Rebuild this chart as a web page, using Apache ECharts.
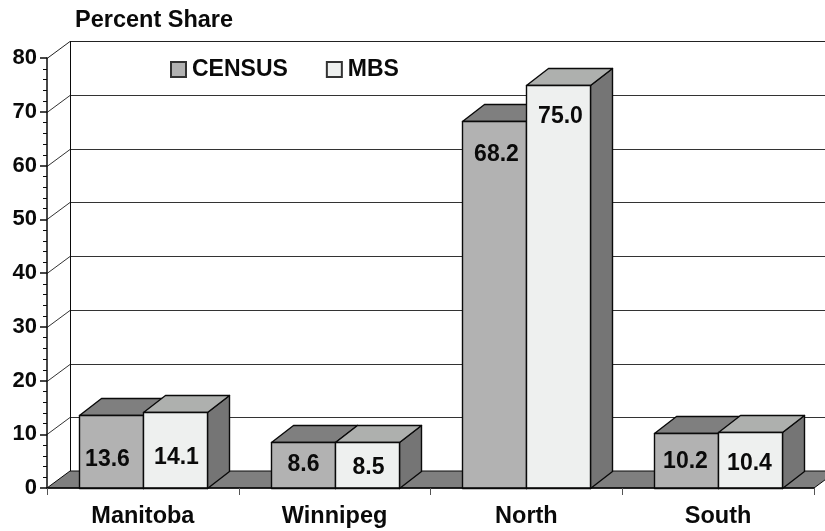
<!DOCTYPE html>
<html><head><meta charset="utf-8">
<style>html,body{margin:0;padding:0;background:#fff}#c{width:825px;height:531px}</style>
<script src="https://cdn.jsdelivr.net/npm/echarts@6/dist/echarts.min.js"></script>
</head><body><div id="c"></div>
<script>
const categories = ['Manitoba','Winnipeg','North','South'];
const census = [13.6, 8.6, 68.2, 10.2];
const mbs = [14.1, 8.5, 75.0, 10.4];
const gridValues = [10,20,30,40,50,60,70,80];
const censusLabelShift = [[-4,44],[0,22],[2,33],[-1,28]];
const mbsLabelShift = [[1,45],[1,25],[2,31],[-1,31]];

const FONT = '"Liberation Sans", Arial, sans-serif';
const WALL_X = 23, DEPTH_X = 22, DEPTH_Y = 17;
const BAR_W = 64;
const INK = '#0a0a0a';

function px(v){ return Math.round(v) + 0.5; }

function bgItem(params, api){
  const cs = params.coordSys;
  const v = api.value(0);
  const y = px(api.coord([0, v])[1]);
  const x0 = cs.x, xb = cs.x + WALL_X;
  return { type:'polyline', silent:true,
    shape:{ points:[[x0,y],[xb,y-DEPTH_Y],[cs.x+cs.width+WALL_X,y-DEPTH_Y]] },
    style:{ stroke: v===80 ? '#222' : '#333', lineWidth:1, fill:null } };
}
function floorItem(params, api){
  const cs = params.coordSys;
  const b = cs.y + cs.height, l = cs.x, r = cs.x + cs.width;
  return { type:'group', children:[
    { type:'polygon', shape:{ points:[[l,b],[l+WALL_X,b-DEPTH_Y],[r+WALL_X,b-DEPTH_Y],[r,b]] },
      style:{ fill:'#7f7f7f', stroke:INK, lineWidth:1 } },
    { type:'line', shape:{ x1:px(l+WALL_X), y1:cs.y-DEPTH_Y, x2:px(l+WALL_X), y2:b-DEPTH_Y },
      style:{ stroke:INK, lineWidth:1 } }
  ]};
}
function barRenderer(side, front, top, flank, shifts){
  return function(params, api){
    const i = api.value(0), v = api.value(1);
    const c = api.coord([i, v]), z = api.coord([i, 0]);
    const x0 = Math.round(side < 0 ? c[0] - BAR_W : c[0]) + 0.5;
    const x1 = x0 + BAR_W;
    const yt = Math.round(c[1]) + 0.5, yb = Math.round(z[1]) + 0.5;
    const s = shifts[i];
    const ln = { stroke:INK, lineWidth:1.4, lineJoin:'round' };
    return { type:'group', children:[
      { type:'polygon', shape:{ points:[[x1,yt],[x1+DEPTH_X,yt-DEPTH_Y],[x1+DEPTH_X,yb-DEPTH_Y],[x1,yb]] },
        style:Object.assign({ fill:flank }, ln) },
      { type:'polygon', shape:{ points:[[x0,yt],[x0+DEPTH_X,yt-DEPTH_Y],[x1+DEPTH_X,yt-DEPTH_Y],[x1,yt]] },
        style:Object.assign({ fill:top }, ln) },
      { type:'rect', shape:{ x:x0, y:yt, width:BAR_W, height:yb-yt },
        style:Object.assign({ fill:front }, ln) },
      { type:'text', x:(x0+x1)/2 + s[0], y:yt + s[1],
        style:{ text:v.toFixed(1), fill:'#0a0a0a', font:'bold 23px '+FONT, align:'center', verticalAlign:'middle' } }
    ]};
  };
}

const chart = echarts.init(document.getElementById('c'), null, {renderer:'canvas'});
chart.setOption({
  animation:false,
  backgroundColor:'#fff',
  title:{ text:'Percent Share', left:75, top:9, padding:0,
    textStyle:{ fontFamily:FONT, fontWeight:'bold', fontSize:23.5, color:'#0a0a0a' } },
  legend:{ left:170, top:58, padding:0, itemWidth:15, itemHeight:15, itemGap:38, icon:'rect',
    data:['CENSUS','MBS'],
    textStyle:{ fontFamily:FONT, fontWeight:'bold', fontSize:23, color:'#0a0a0a', padding:[0,0,0,1] } },
  grid:{ left:47, right:11, top:58, bottom:43 },
  xAxis:{ type:'category', data:categories, z:10,
    boundaryGap:true,
    axisLine:{ lineStyle:{ color:INK, width:1.5 } },
    axisTick:{ show:true, length:7, lineStyle:{ color:'#555', width:1 } },
    axisLabel:{ margin:17, fontFamily:FONT, fontWeight:'bold', fontSize:23.5, color:'#0a0a0a' },
    splitLine:{ show:false } },
  yAxis:{ type:'value', min:0, max:80, interval:10, z:10,
    axisLine:{ show:true, lineStyle:{ color:INK, width:1.5 } },
    axisTick:{ show:true, length:7, lineStyle:{ color:INK, width:1.5 } },
    minorTick:{ show:true, splitNumber:5, length:4, lineStyle:{ color:INK, width:1 } },
    axisLabel:{ margin:10, fontFamily:FONT, fontWeight:'bold', fontSize:22, color:'#0a0a0a', padding:[5,0,0,0] },
    splitLine:{ show:false } },
  series:[
    { type:'custom', name:'grid', coordinateSystem:'cartesian2d', silent:true, z:1,
      data:gridValues.map(v=>[v]), encode:{ x:-1, y:0 }, renderItem:bgItem, clip:false },
    { type:'custom', name:'floor', coordinateSystem:'cartesian2d', silent:true, z:1,
      data:[[0]], encode:{ x:-1, y:0 }, renderItem:floorItem, clip:false },
    { type:'custom', name:'CENSUS', coordinateSystem:'cartesian2d', z:2, clip:false,
      itemStyle:{ color:'#b2b2b2', borderColor:'#333', borderWidth:1 },
      data:census.map((v,i)=>[i,v]), encode:{ x:0, y:1 },
      renderItem:barRenderer(-1,'#b2b2b2','#7f7f7f','#757575',censusLabelShift) },
    { type:'custom', name:'MBS', coordinateSystem:'cartesian2d', z:3, clip:false,
      itemStyle:{ color:'#eef0ef', borderColor:'#333', borderWidth:1 },
      data:mbs.map((v,i)=>[i,v]), encode:{ x:0, y:1 },
      renderItem:barRenderer(1,'#eef0ef','#aeb0ae','#757575',mbsLabelShift) }
  ]
});
</script></body></html>
